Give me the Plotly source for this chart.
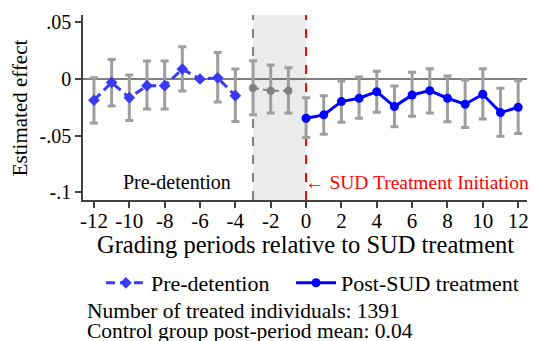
import plotly.graph_objects as go

# ---- data ----
pre_x = [-12, -11, -10, -9, -8, -7, -6, -5, -4]
pre_y = [-0.0188, -0.0030, -0.0165, -0.0059, -0.0059, 0.0088, 0.0000, 0.0010, -0.0147]
pre_lo = [-0.0390, -0.0238, -0.0367, -0.0265, -0.0265, -0.0106, 0.0000, -0.0203, -0.0376]
pre_hi = [0.0010, 0.0173, 0.0035, 0.0159, 0.0159, 0.0285, 0.0000, 0.0235, 0.0088]

gap_x = [-3, -2, -1]
gap_y = [-0.0079, -0.0103, -0.0103]
gap_lo = [-0.0317, -0.0300, -0.0300]
gap_hi = [0.0162, 0.0123, 0.0100]

post_x = [0, 1, 2, 3, 4, 5, 6, 7, 8, 9, 10, 11, 12]
post_y = [-0.0347, -0.0317, -0.0200, -0.0170, -0.0112, -0.0244, -0.0141, -0.0103, -0.0170, -0.0223, -0.0135, -0.0297, -0.0250]
post_lo = [-0.0517, -0.0488, -0.0382, -0.0347, -0.0294, -0.0423, -0.0329, -0.0300, -0.0379, -0.0429, -0.0353, -0.0506, -0.0482]
post_hi = [-0.0165, -0.0147, -0.0018, 0.0018, 0.0068, -0.0062, 0.0059, 0.0091, 0.0026, -0.0009, 0.0091, -0.0082, -0.0015]

x_tickvals = [-12, -10, -8, -6, -4, -2, 0, 2, 4, 6, 8, 10, 12]
x_ticktext = ["-12", "-10", "-8", "-6", "-4", "-2", "0", "2", "4", "6", "8", "10", "12"]
y_tickvals = [0.05, 0, -0.05, -0.1]
y_ticktext = [".05", "0", "-.05", "-.1"]

FONT = "Liberation Serif"
W, H = 534, 341
ML, MR, MT, MB = 83, 5, 15, 141
PW, PH = W - ML - MR, H - MT - MB


def py(px):
    return (MT + PH - px) / PH


def pxx(px):
    return (px - ML) / PW


fig = go.Figure()


def ci_trace(xs, ys, lo, hi):
    return go.Scatter(
        x=xs, y=ys, mode="markers",
        marker=dict(size=1, opacity=0),
        error_y=dict(type="data", symmetric=False,
                     array=[h - y for h, y in zip(hi, ys)],
                     arrayminus=[y - l for l, y in zip(lo, ys)],
                     color="#9e9e9e", thickness=3, width=4),
        showlegend=False, hoverinfo="skip")


keep = [i for i in range(len(pre_x)) if pre_hi[i] != pre_lo[i]]
fig.add_trace(ci_trace([pre_x[i] for i in keep], [pre_y[i] for i in keep],
                       [pre_lo[i] for i in keep], [pre_hi[i] for i in keep]))
fig.add_trace(ci_trace(gap_x, gap_y, gap_lo, gap_hi))
fig.add_trace(ci_trace(post_x, post_y, post_lo, post_hi))

fig.add_trace(go.Scatter(x=gap_x, y=gap_y, mode="lines+markers",
                         line=dict(color="#808080", width=2, dash="6px,4px"),
                         marker=dict(symbol="circle", size=8, color="#808080"),
                         showlegend=False))
fig.add_trace(go.Scatter(x=pre_x, y=pre_y, mode="lines+markers", name="Pre-detention",
                         line=dict(color="#3a3af5", width=3, dash="9px,5px"),
                         marker=dict(symbol="diamond", size=9, color="#3a3af5"),
                         legend="legend"))
fig.add_trace(go.Scatter(x=post_x, y=post_y, mode="lines+markers", name="Post-SUD treatment",
                         line=dict(color="#0000ff", width=3),
                         marker=dict(symbol="circle", size=9, color="#0000ff"),
                         legend="legend2"))

# shading and reference lines
fig.add_shape(type="rect", xref="x", yref="paper", x0=-3, x1=0, y0=0, y1=1,
              fillcolor="#ebebeb", line=dict(width=0), layer="below")
fig.add_shape(type="line", xref="paper", yref="y", x0=0, x1=1, y0=0, y1=0,
              line=dict(color="#555555", width=1.5), layer="below")
fig.add_shape(type="line", xref="x", yref="paper", x0=-3, x1=-3, y0=0, y1=1,
              line=dict(color="#808080", width=2, dash="dash"), layer="below")
fig.add_shape(type="line", xref="x", yref="paper", x0=0, x1=0, y0=0, y1=1,
              line=dict(color="#ff0000", width=2, dash="dash"), layer="below")

fig.add_annotation(x=-7.29, y=-0.0912, xref="x", yref="y", text="Pre-detention",
                   showarrow=False, font=dict(family=FONT, size=20, color="black"),
                   xanchor="center", yanchor="middle")
fig.add_annotation(x=0, y=-0.0912, xref="x", yref="y", text="\u2190 SUD Treatment Initiation",
                   showarrow=False, font=dict(family=FONT, size=19.5, color="#ff0000"),
                   xanchor="left", yanchor="middle", xshift=-3)

# axis titles
fig.add_annotation(x=0.5, y=py(244), xref="paper", yref="paper",
                   text="Grading periods relative to SUD treatment", showarrow=False,
                   font=dict(family=FONT, size=24.5, color="black"), xanchor="center", yanchor="middle")
fig.add_annotation(x=pxx(20), y=py(108), xref="paper", yref="paper",
                   text="Estimated effect", textangle=-90, showarrow=False,
                   font=dict(family=FONT, size=21, color="black"), xanchor="center", yanchor="middle")

# notes
fig.add_annotation(x=pxx(85), y=py(311), xref="paper", yref="paper",
                   text="Number of treated individuals: 1391", showarrow=False,
                   font=dict(family=FONT, size=21.5, color="black"), xanchor="left", yanchor="middle")
fig.add_annotation(x=pxx(85), y=py(331), xref="paper", yref="paper",
                   text="Control group post-period mean: 0.04", showarrow=False,
                   font=dict(family=FONT, size=21.5, color="black"), xanchor="left", yanchor="middle")

fig.update_xaxes(range=[-12.62, 12.5], tickvals=x_tickvals, ticktext=x_ticktext,
                 ticks="outside", ticklen=6, tickwidth=1.5, tickcolor="#404040",
                 showline=True, linecolor="#404040", linewidth=1.5, showgrid=False, zeroline=False,
                 ticklabelstandoff=-5,
                 tickfont=dict(family=FONT, size=21, color="black"))
fig.update_yaxes(range=[-0.107, 0.0566], tickvals=y_tickvals, ticktext=y_ticktext,
                 ticks="outside", ticklen=6, tickwidth=1.5, tickcolor="#404040",
                 showline=True, linecolor="#404040", linewidth=1.5, showgrid=False, zeroline=False,
                 tickfont=dict(family=FONT, size=20, color="black"))

leg_common = dict(orientation="h", yanchor="middle", xanchor="left",
                  font=dict(family=FONT, size=22, color="black"),
                  bgcolor="rgba(0,0,0,0)", itemwidth=40)
fig.update_layout(
    width=W, height=H,
    margin=dict(l=ML, r=MR, t=MT, b=MB),
    plot_bgcolor="white", paper_bgcolor="white",
    font=dict(family=FONT, color="black"),
    legend=dict(x=pxx(101), y=py(283), **leg_common),
    legend2=dict(x=pxx(292), y=py(283), **leg_common),
)

fig.write_html("out.html")
